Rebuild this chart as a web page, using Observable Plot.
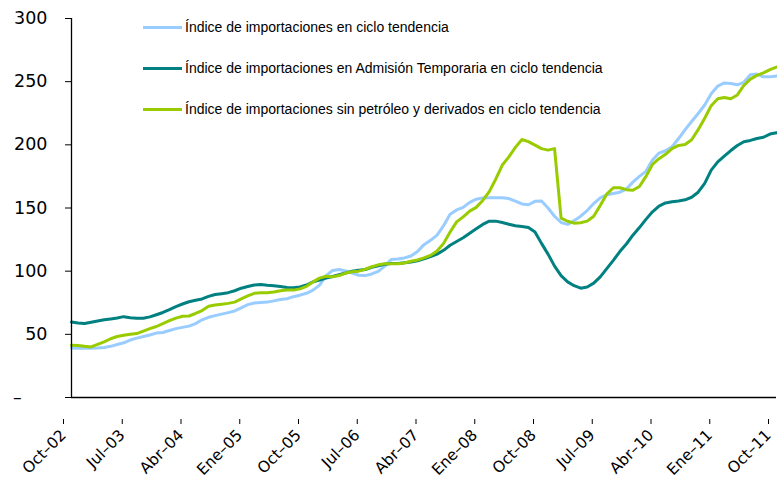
<!DOCTYPE html>
<html>
<head>
<meta charset="utf-8">
<script src="https://cdn.jsdelivr.net/npm/d3@7"></script>
<script src="https://cdn.jsdelivr.net/npm/@observablehq/plot@0.6"></script>
<style>
  html, body { margin: 0; padding: 0; background: #fff; }
  #wrap { position: relative; width: 777px; height: 478px; }
  #legend { position: absolute; left: 143px; top: 0; font-family: "Liberation Sans", Arial, sans-serif; font-size: 14px; color: #000; }
  .item { position: absolute; left: 0; display: flex; align-items: center; white-space: nowrap; }
  .sw { width: 39px; height: 3px; margin-right: 3px; }
</style>
</head>
<body>
<div id="wrap"><div id="legend"></div></div>
<script>
const seriesNames = [
  "Índice de importaciones en ciclo tendencia",
  "Índice de importaciones en Admisión Temporaria en ciclo tendencia",
  "Índice de importaciones sin petróleo y derivados en ciclo tendencia"
];
const seriesColors = ["#99CCFF", "#008080", "#99CC00"];

// monthly values, Oct-02 .. Oct-11
const importaciones = [
  39.2, 39.0, 39.0, 39.0, 39.2, 39.6, 40.5, 42.0, 43.3, 45.5,
  47.0, 48.3, 49.5, 51.0, 51.5, 53.0, 54.5, 55.5, 56.5, 58.5,
  61.5, 63.5, 64.8, 66.0, 67.2, 68.5, 71.0, 73.5, 74.8, 75.2,
  75.5, 76.5, 77.5, 78.2, 79.8, 81.0, 82.5, 85.0, 89.0, 96.5,
  100.5, 101.3, 100.2, 98.5, 96.8, 96.5, 97.8, 99.8, 104.0, 109.3,
  109.6, 110.5, 112.0, 115.5, 121.0, 124.4, 128.5, 136.0, 145.0, 148.5,
  150.5, 154.5, 157.0, 158.0, 158.2, 158.2, 158.2, 157.5, 155.5, 153.2,
  152.6, 155.3, 155.5, 150.0, 143.5, 138.5, 137.0, 140.0, 143.5, 148.0,
  153.5, 158.0, 160.5, 161.5, 162.5, 165.0, 170.5, 175.0, 179.0, 188.0,
  193.5, 195.3, 198.5, 205.0, 212.0, 218.5, 224.8, 231.5, 240.5, 246.5,
  249.0, 248.5, 247.5, 249.5, 255.5, 256.0, 253.8, 253.8, 254.5
];
const admisionTemporaria = [
  59.8, 59.0, 58.6, 59.6, 60.5, 61.5, 62.2, 63.0, 64.0, 63.2,
  62.8, 62.7, 63.8, 65.5, 67.3, 69.5, 72.0, 74.0, 75.8, 77.0,
  78.0, 80.0, 81.5, 82.2, 83.0, 84.5, 86.5, 87.8, 89.0, 89.5,
  88.8, 88.5, 87.8, 87.0, 86.9, 87.5, 89.0, 91.5, 93.0, 94.5,
  95.8, 97.2, 98.5, 100.0, 100.8, 101.3, 103.0, 104.3, 105.5, 106.0,
  106.1, 106.6, 107.3, 108.2, 109.8, 111.5, 113.5, 116.5, 120.5, 123.5,
  126.5, 130.0, 133.5, 137.0, 139.6, 139.6, 138.5, 137.2, 136.0, 135.4,
  134.5, 131.0, 122.0, 113.5, 104.0, 96.5, 91.5, 88.5, 86.5, 87.5,
  90.5, 95.5, 102.0, 108.5, 115.5, 121.5, 128.5, 134.5, 141.0, 147.0,
  151.5, 154.0, 155.0, 155.5, 156.5, 158.5, 162.5, 169.5, 180.0, 186.5,
  191.0, 195.5, 199.5, 202.5, 203.5, 205.0, 206.0, 208.5, 209.5
];
const sinPetroleo = [
  41.4, 41.2, 40.5, 40.0, 42.0, 44.0, 46.5, 48.3, 49.2, 50.0,
  50.6, 52.5, 54.5, 56.2, 58.5, 60.8, 62.8, 64.3, 64.5, 66.5,
  68.8, 72.2, 73.2, 73.8, 74.5, 75.5, 78.0, 80.5, 82.5, 83.0,
  83.0, 83.5, 84.5, 85.0, 85.0, 86.0, 88.0, 91.5, 94.5, 96.0,
  95.5, 96.5, 98.5, 99.5, 100.0, 101.5, 103.5, 105.0, 105.9, 105.9,
  105.9, 106.5, 107.8, 108.8, 110.5, 112.5, 116.0, 122.0, 131.0, 139.0,
  143.0, 147.5, 150.5, 156.0, 163.0, 173.0, 184.0, 190.5, 198.0, 204.2,
  202.5, 199.8, 197.0, 195.8, 197.0, 142.0, 139.5, 138.0, 138.3, 139.6,
  143.5, 152.0, 161.0, 166.0, 166.0, 164.5, 164.0, 167.0, 175.0, 184.5,
  189.0, 192.5, 197.0, 199.5, 200.2, 204.0, 212.0, 221.0, 231.0, 236.5,
  237.5, 236.5, 239.5, 247.0, 252.0, 255.0, 257.0, 259.5, 261.5
];

const tickLabels = ["Oct–02", "Jul–03", "Abr–04", "Ene–05", "Oct–05", "Jul–06", "Abr–07",
                    "Ene–08", "Oct–08", "Jul–09", "Abr–10", "Ene–11", "Oct–11"];
const tickStep = 9; // months between labels
const yTicks = [0, 50, 100, 150, 200, 250, 300];

const allSeries = [importaciones, admisionTemporaria, sinPetroleo];
const rows = allSeries.flatMap((vals, s) => vals.map((v, i) => ({month: i, value: v, serie: seriesNames[s]})));
const tickIdx = tickLabels.map((_, k) => k * tickStep);

const chart = Plot.plot({
  width: 777,
  height: 478,
  marginLeft: 71,
  marginRight: 1,
  marginTop: 18,
  marginBottom: 81,
  style: {fontFamily: "DejaVu Sans, sans-serif", color: "#000", background: "#fff"},
  x: {type: "linear", domain: [0, importaciones.length - 1]},
  y: {domain: [0, 300]},
  color: {domain: seriesNames, range: seriesColors},
  marks: [
    Plot.axisY({ticks: yTicks, tickFormat: d => d === 0 ? "–\u2007\u2007\u2009" : String(d), tickSize: 6, tickPadding: 18, fontSize: 17.5, label: null}),
    Plot.axisX({ticks: tickIdx, tickFormat: i => tickLabels[i / tickStep], tickRotate: -45, tickSize: 5, tickPadding: 8, dx: -8, dy: 22, fontSize: 15.5, label: null}),
    Plot.line(rows, {x: "month", y: "value", z: "serie", stroke: "serie", strokeWidth: 3, strokeLinejoin: "round"}),
    Plot.ruleX([0], {stroke: "#000", strokeWidth: 1.3}),
    Plot.ruleY([0], {stroke: "#000", strokeWidth: 1.3})
  ]
});
document.getElementById("wrap").prepend(chart);

const legendTops = [27, 68, 109];
const legend = document.getElementById("legend");
seriesNames.forEach((name, s) => {
  const item = document.createElement("div");
  item.className = "item";
  item.style.top = (legendTops[s] - 9) + "px";
  item.style.height = "18px";
  item.innerHTML = `<span class="sw" style="background:${seriesColors[s]}"></span><span>${name}</span>`;
  legend.appendChild(item);
});
</script>
</body>
</html>
